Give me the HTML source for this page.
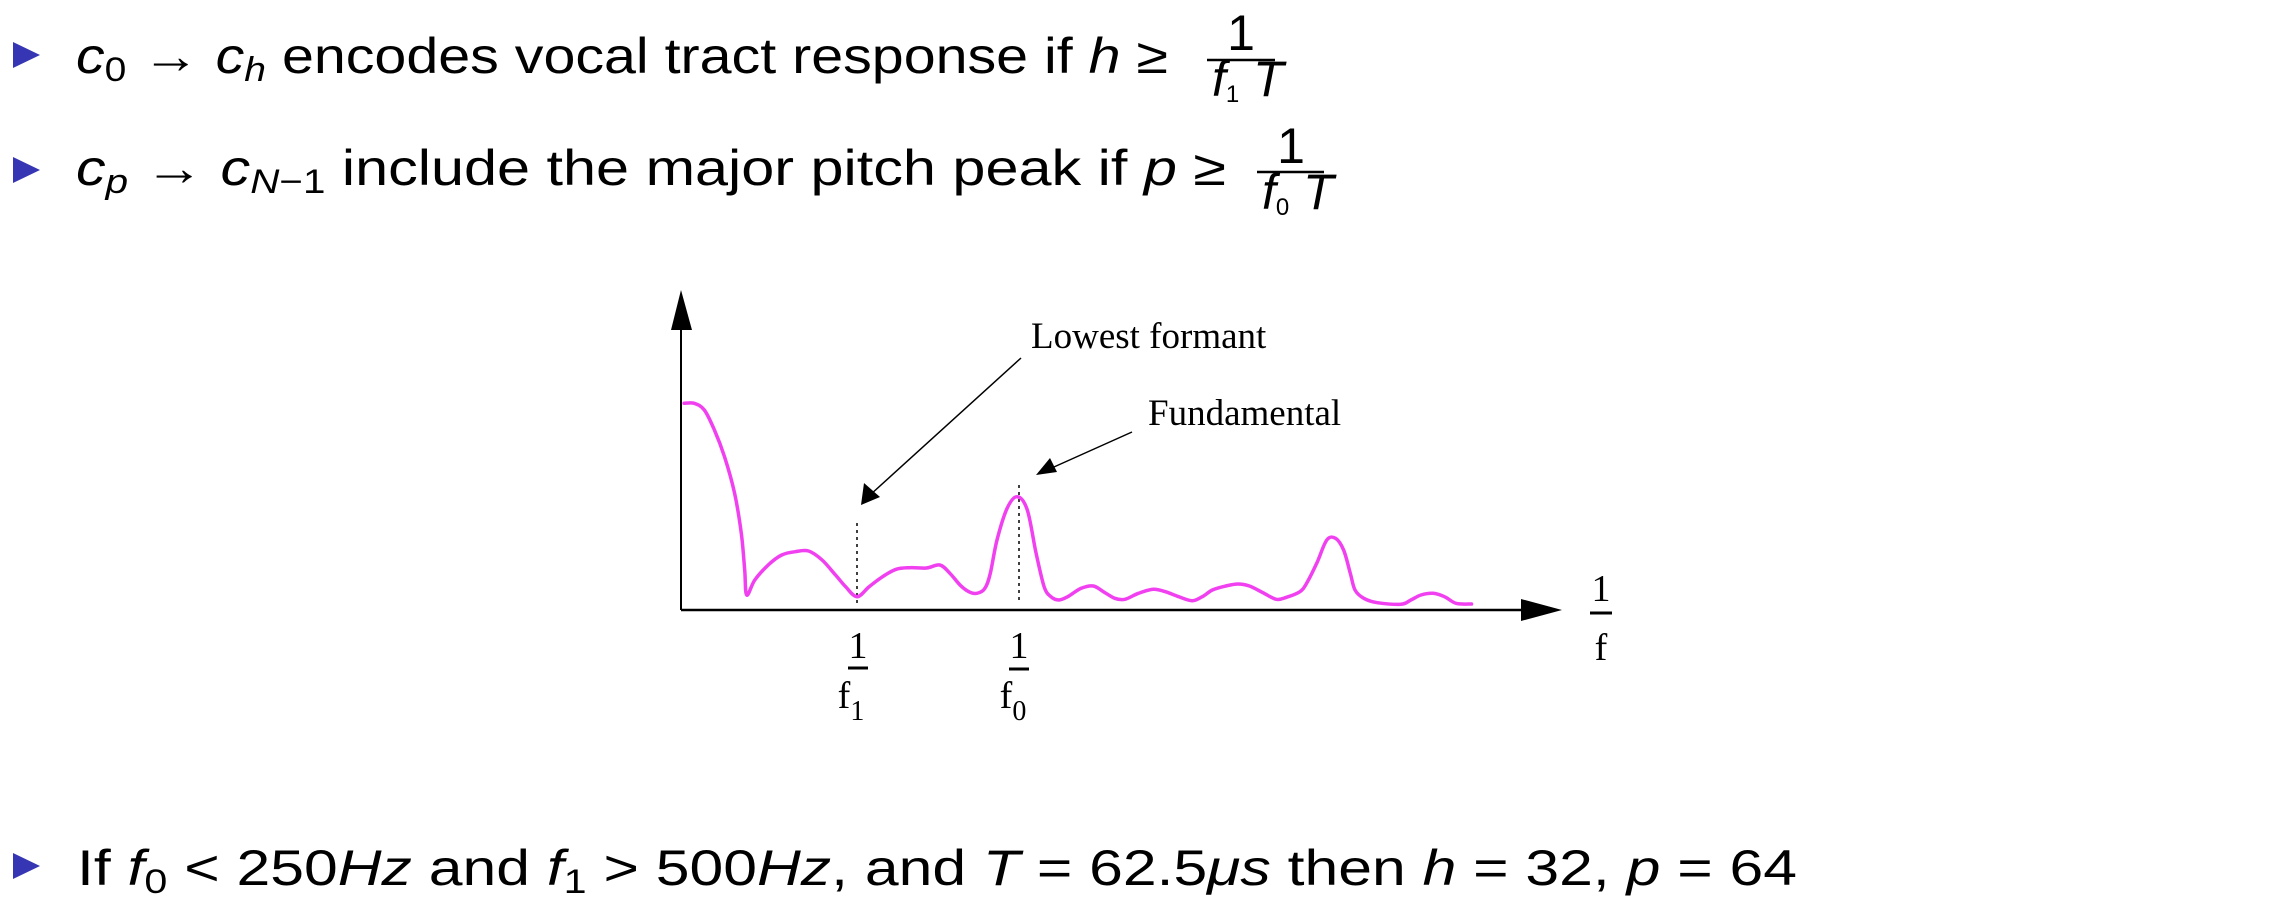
<!DOCTYPE html>
<html><head><meta charset="utf-8"><style>
html,body{margin:0;padding:0;background:#fff;}
svg{display:block;}
.s{font-family:"Liberation Sans",sans-serif;font-size:50px;fill:#000;}
.t{font-family:"Liberation Serif",serif;fill:#000;}
</style></head><body>
<svg id="svg" width="2270" height="916" viewBox="0 0 2270 916">
<g>
<polygon points="13,42 40,55 13,68" fill="#3636b4"/>
<text class="s" x="76" y="73" textLength="1092" lengthAdjust="spacingAndGlyphs"><tspan font-style="italic">c</tspan><tspan font-size="34" dy="8">0</tspan><tspan dy="-8"> → </tspan><tspan font-style="italic">c</tspan><tspan font-style="italic" font-size="34" dy="8">h</tspan><tspan dy="-8"> encodes vocal tract response if </tspan><tspan font-style="italic">h</tspan><tspan> ≥</tspan></text>
<text class="s" x="1241" y="50" font-size="34" text-anchor="middle">1</text>
<line x1="1207" y1="60" x2="1275" y2="60" stroke="#000" stroke-width="2.5"/>
<text class="s" x="1212" y="96" font-size="32" font-style="italic">f<tspan font-size="24" dy="6" font-style="normal">1</tspan><tspan dy="-6"> T</tspan></text>
</g>
<g>
<polygon points="13,157 40,170 13,183" fill="#3636b4"/>
<text class="s" x="76" y="185" textLength="1150" lengthAdjust="spacingAndGlyphs"><tspan font-style="italic">c</tspan><tspan font-style="italic" font-size="34" dy="8">p</tspan><tspan dy="-8"> → </tspan><tspan font-style="italic">c</tspan><tspan font-size="34" dy="8"><tspan font-style="italic">N</tspan>−1</tspan><tspan dy="-8"> include the major pitch peak if </tspan><tspan font-style="italic">p</tspan><tspan> ≥</tspan></text>
<text class="s" x="1291" y="163" font-size="34" text-anchor="middle">1</text>
<line x1="1257" y1="172" x2="1324" y2="172" stroke="#000" stroke-width="2.5"/>
<text class="s" x="1262" y="209" font-size="32" font-style="italic">f<tspan font-size="24" dy="6" font-style="normal">0</tspan><tspan dy="-6"> T</tspan></text>
</g>
<g>
<polygon points="13,853 40,866 13,879" fill="#3636b4"/>
<text class="s" x="77" y="885" textLength="1720" lengthAdjust="spacingAndGlyphs">If <tspan font-style="italic">f</tspan><tspan font-size="34" dy="8">0</tspan><tspan dy="-8"> &lt; 250</tspan><tspan font-style="italic">Hz</tspan> and <tspan font-style="italic">f</tspan><tspan font-size="34" dy="8">1</tspan><tspan dy="-8"> &gt; 500</tspan><tspan font-style="italic">Hz</tspan>, and <tspan font-style="italic">T</tspan> = 62.5<tspan font-style="italic">μs</tspan> then <tspan font-style="italic">h</tspan> = 32, <tspan font-style="italic">p</tspan> = 64</text>
</g>
<g id="chart">
<line x1="681" y1="610" x2="681" y2="325" stroke="#000" stroke-width="2"/>
<polygon points="681,290 671,330 692,330" fill="#000"/>
<line x1="681" y1="610" x2="1525" y2="610" stroke="#000" stroke-width="2.5"/>
<polygon points="1562,610 1521,599 1521,621" fill="#000"/>
<text class="t" x="1601" y="601" font-size="38" text-anchor="middle">1</text>
<line x1="1590" y1="613" x2="1612" y2="613" stroke="#000" stroke-width="3"/>
<text class="t" x="1601" y="660" font-size="38" text-anchor="middle">f</text>
<text class="t" x="1031" y="348" font-size="37">Lowest formant</text>
<text class="t" x="1148" y="425" font-size="37">Fundamental</text>
<line x1="1021" y1="358" x2="870" y2="495" stroke="#000" stroke-width="1.5"/>
<polygon points="861,505 864,483 880,497" fill="#000"/>
<line x1="1132" y1="432" x2="1045" y2="471" stroke="#000" stroke-width="1.5"/>
<polygon points="1036,475 1050,458 1057,472" fill="#000"/>
<line x1="857" y1="523" x2="857" y2="603" stroke="#000" stroke-width="1.5" stroke-dasharray="3,4"/>
<line x1="1019" y1="485" x2="1019" y2="603" stroke="#000" stroke-width="1.5" stroke-dasharray="3,4"/>
<text class="t" x="858" y="658" font-size="38" text-anchor="middle">1</text>
<line x1="848" y1="668" x2="868" y2="668" stroke="#000" stroke-width="3"/>
<text class="t" x="851" y="708" font-size="38" text-anchor="middle">f<tspan font-size="28" dy="12">1</tspan></text>
<text class="t" x="1019" y="658" font-size="38" text-anchor="middle">1</text>
<line x1="1009" y1="669" x2="1029" y2="669" stroke="#000" stroke-width="3"/>
<text class="t" x="1013" y="708" font-size="38" text-anchor="middle">f<tspan font-size="28" dy="12">0</tspan></text>
</g>
</svg>
<script>
// quefrency positions (arbitrary units) and cepstral magnitudes (arbitrary units)
const quefrency = [1.25,1.4,1.55,1.7,1.85,2.0,2.1,2.15,2.18,2.3,2.5,2.7,2.9,3.1,3.3,3.5,3.65,3.82,4.0,4.2,4.4,4.6,4.85,5.05,5.2,5.35,5.48,5.6,5.72,5.8,5.9,6.05,6.2,6.35,6.48,6.6,6.7,6.82,6.95,7.15,7.33,7.48,7.65,7.8,8.0,8.22,8.4,8.6,8.8,8.95,9.1,9.3,9.48,9.65,9.85,10.05,10.2,10.4,10.5,10.65,10.8,10.93,11.05,11.15,11.22,11.35,11.55,11.9,12.05,12.2,12.38,12.55,12.72,12.95];
const magnitude = [62,62,60,54,46,35,23,12,4.5,9,13.5,16.5,17.5,17.7,15,10.5,7,4,7,10,12.2,12.7,12.6,13.5,11,7.5,5.5,5,6.5,11,21,30.5,34,30,17,7,4,3,4,6.5,7.2,5.5,3.5,3.2,5,6.2,5.5,4,2.8,4,6,7.2,7.8,7.2,5.2,3.2,3.8,5.5,8,14,21,21.5,18,11,6,3.5,2.2,1.7,3,4.5,5,4,2,1.8];
const X = q => 600 + q*100/1.486;
const Y = m => 260 + (1050 - m*10)/3;
const P = quefrency.map((q,i)=>[X(q), Y(magnitude[i])]);
let d = 'M' + P[0][0].toFixed(1) + ',' + P[0][1].toFixed(1);
for (let i = 0; i < P.length - 1; i++) {
  const p0 = P[Math.max(0, i-1)], p1 = P[i], p2 = P[i+1], p3 = P[Math.min(P.length-1, i+2)];
  const c1x = p1[0] + (p2[0]-p0[0])/6, c1y = p1[1] + (p2[1]-p0[1])/6;
  const c2x = p2[0] - (p3[0]-p1[0])/6, c2y = p2[1] - (p3[1]-p1[1])/6;
  d += ' C' + c1x.toFixed(1) + ',' + c1y.toFixed(1) + ' ' + c2x.toFixed(1) + ',' + c2y.toFixed(1) + ' ' + p2[0].toFixed(1) + ',' + p2[1].toFixed(1);
}
const pl = document.createElementNS('http://www.w3.org/2000/svg','path');
pl.setAttribute('d', d);
pl.setAttribute('fill','none');
pl.setAttribute('stroke','#f040f0');
pl.setAttribute('stroke-width','3.5');
pl.setAttribute('stroke-linejoin','round');
pl.setAttribute('stroke-linecap','round');


document.getElementById('chart').appendChild(pl);
</script>
</body></html>
